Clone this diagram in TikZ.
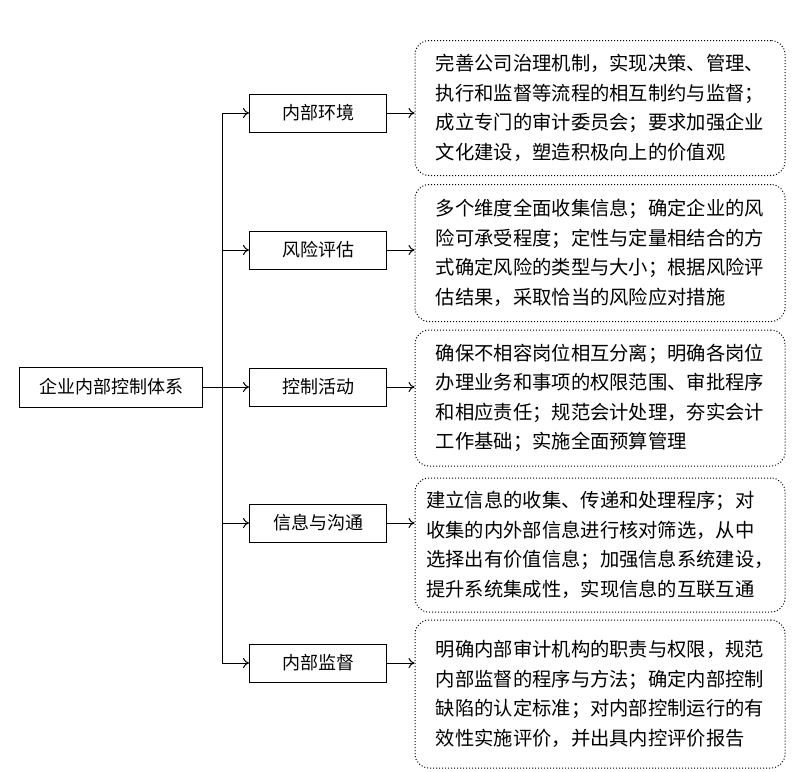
\documentclass[tikz,border=0pt]{standalone}
\usepackage{fontspec}
\setmainfont{Noto Sans CJK SC}
\usetikzlibrary{arrows.meta}
\begin{document}
\begin{tikzpicture}[x=1pt,y=-1pt,
  sq/.style={draw,line width=1pt,inner sep=0pt,font=\fontsize{18}{20}\selectfont},
  rb/.style={draw,line width=1pt,dotted,rounded corners=14pt,minimum width=370pt,inner sep=0pt,align=left,font=\fontsize{19.3}{29.5}\selectfont},
  ar/.style={line width=1pt,-{To[length=6pt,width=10pt]}}]
\useasboundingbox (0,0) rectangle (800,771);
\node[sq,minimum width=183pt,minimum height=40pt] (root) at (111,387) {企业内部控制体系};
\foreach \n/\y/\t in {m1/113/内部环境,m2/250/风险评估,m3/387/控制活动,m4/523/信息与沟通,m5/663/内部监督}
  \node[sq,minimum width=137pt,minimum height=38pt] (\n) at (318,\y) {\t};
\node[rb,minimum height=135pt] (r1) at (600,108) {完善公司治理机制，实现决策、管理、\\执行和监督等流程的相互制约与监督；\\成立专门的审计委员会；要求加强企业\\文化建设，塑造积极向上的价值观};
\node[rb,minimum height=137pt] (r2) at (600,253) {多个维度全面收集信息；确定企业的风\\险可承受程度；定性与定量相结合的方\\式确定风险的类型与大小；根据风险评\\估结果，采取恰当的风险应对措施};
\node[rb,minimum height=136pt] (r3) at (600,398) {确保不相容岗位相互分离；明确各岗位\\办理业务和事项的权限范围、审批程序\\和相应责任；规范会计处理，夯实会计\\工作基础；实施全面预算管理};
\node[rb,minimum height=134pt] (r4) at (600,545) {建立信息的收集、传递和处理程序；对\\收集的内外部信息进行核对筛选，从中\\选择出有价值信息；加强信息系统建设，\\提升系统集成性，实现信息的互联互通};
\node[rb,minimum height=148pt] (r5) at (600,694) {明确内部审计机构的职责与权限，规范\\内部监督的程序与方法；确定内部控制\\缺陷的认定标准；对内部控制运行的有\\效性实施评价，并出具内控评价报告};
\coordinate (t1) at (222,113);
\coordinate (t5) at (222,663);
\draw[line width=1pt] (t1) -- (t5);
\draw[line width=1pt] (root.east) -- (root.east -| t1);
\foreach \i in {1,...,5}{
  \draw[ar] (m\i.west -| t1) -- (m\i.west);
  \draw[ar] (m\i.east) -- (m\i.east -| r\i.west);
}
\end{tikzpicture}
\end{document}
